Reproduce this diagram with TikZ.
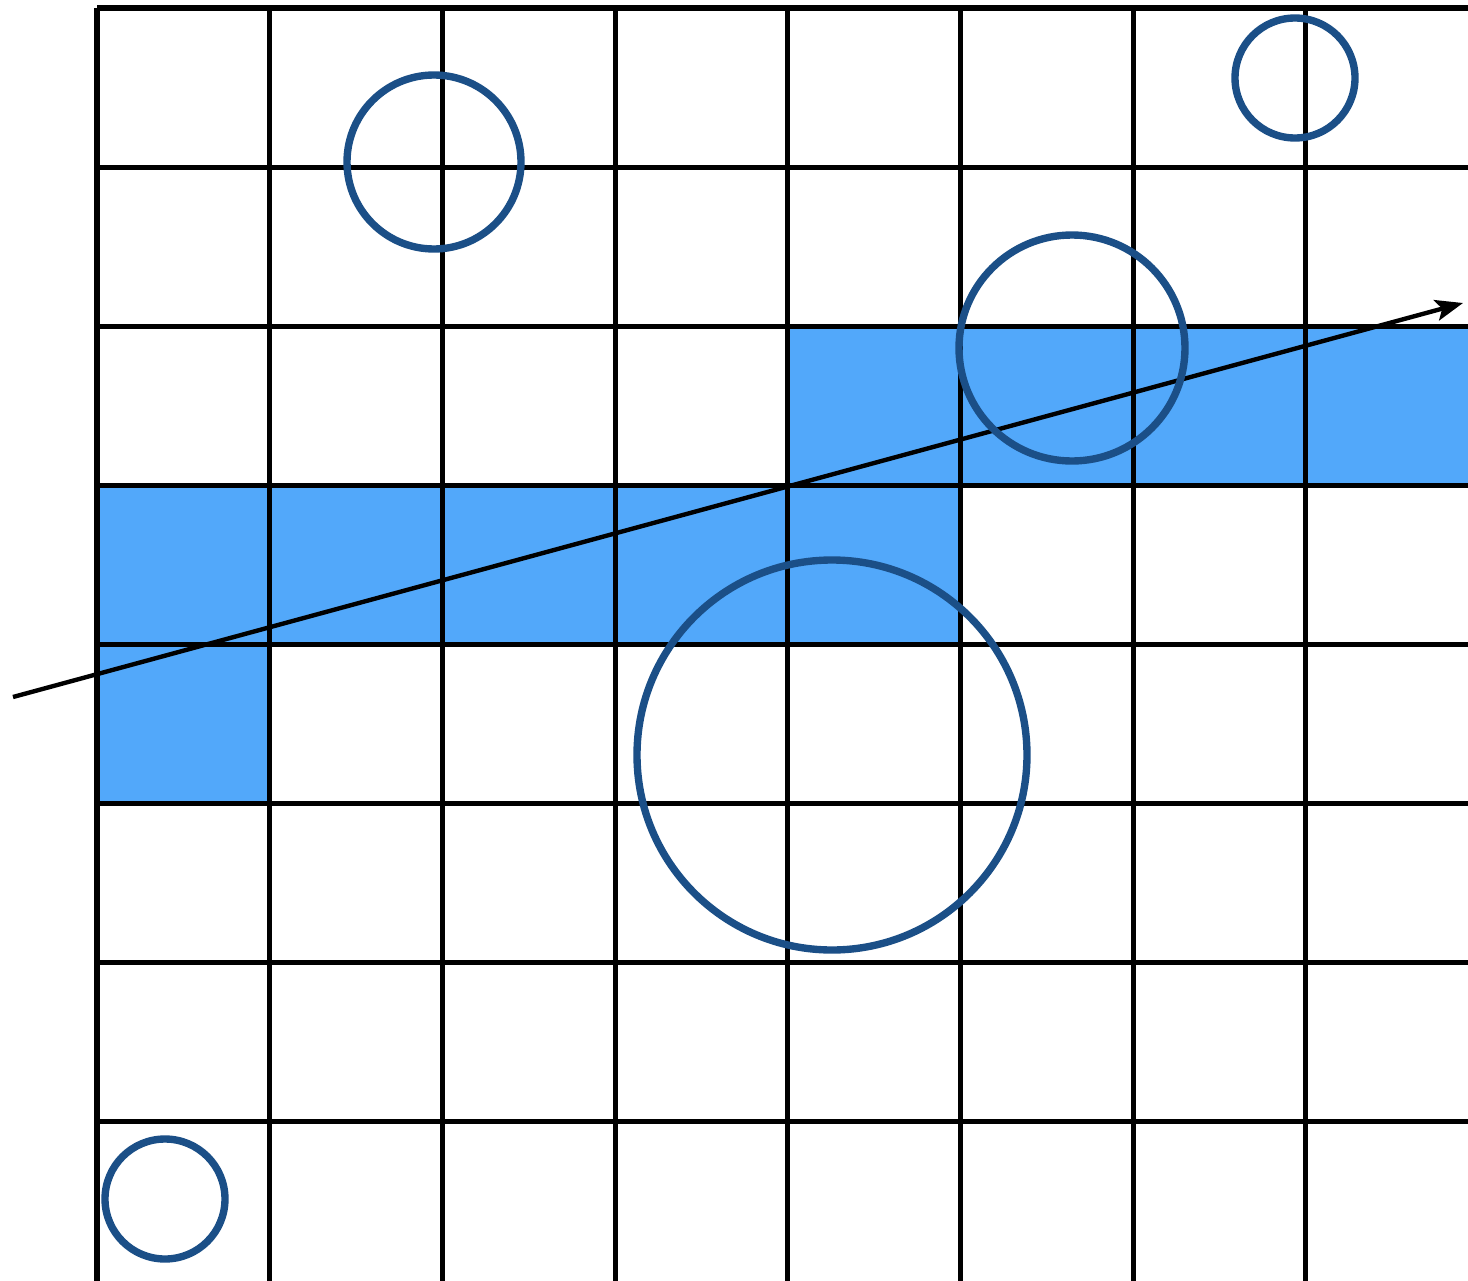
\documentclass[tikz,border=0pt]{standalone}
\usetikzlibrary{arrows.meta}
\definecolor{cellblue}{HTML}{52A8FA}
\definecolor{ringblue}{HTML}{1B4F87}
\tikzset{
  gridline/.style={black, line width=2.9pt},
  ring/.style={ringblue, line width=4.2pt},
  ray/.style={black, line width=2.5pt, -{Stealth[length=0.55cm, width=0.42cm, inset=0.12cm]}},
  cellfill/.style={fill=cellblue, draw=none}
}
\begin{document}
\begin{tikzpicture}[x=0.02cm, y=-0.02cm]
\useasboundingbox (0,0) rectangle (1468,1281);
\clip (0,0) rectangle (1468,1281);
\def\cw{172.7}
\def\ch{159.1}
% filled cells
\fill[cellfill] (789,326.2) rectangle (1500,486);
\fill[cellfill] (97,486) rectangle (961,645);
\fill[cellfill] (97,645) rectangle (270,804);
% grid
\foreach \k in {0,...,8} {
  \draw[gridline] ({97+\k*\cw},8) -- ({97+\k*\cw},1300);
}
\foreach \k in {0,...,7} {
  \draw[gridline] (97,{8+\k*\ch}) -- (1500,{8+\k*\ch});
}
\draw[gridline] (97,1283.5) -- (1500,1283.5);
% ray
\coordinate (tail) at (13,697);
\coordinate (head) at (1463,303);
\draw[ray] (tail) -- (head);
% circles
\draw[ring] (434,162) circle (87);
\draw[ring] (1295,78) circle (60);
\draw[ring] (1072,348) circle (113);
\draw[ring] (832,755) circle (195);
\draw[ring] (165,1199) circle (60);
\end{tikzpicture}
\end{document}
